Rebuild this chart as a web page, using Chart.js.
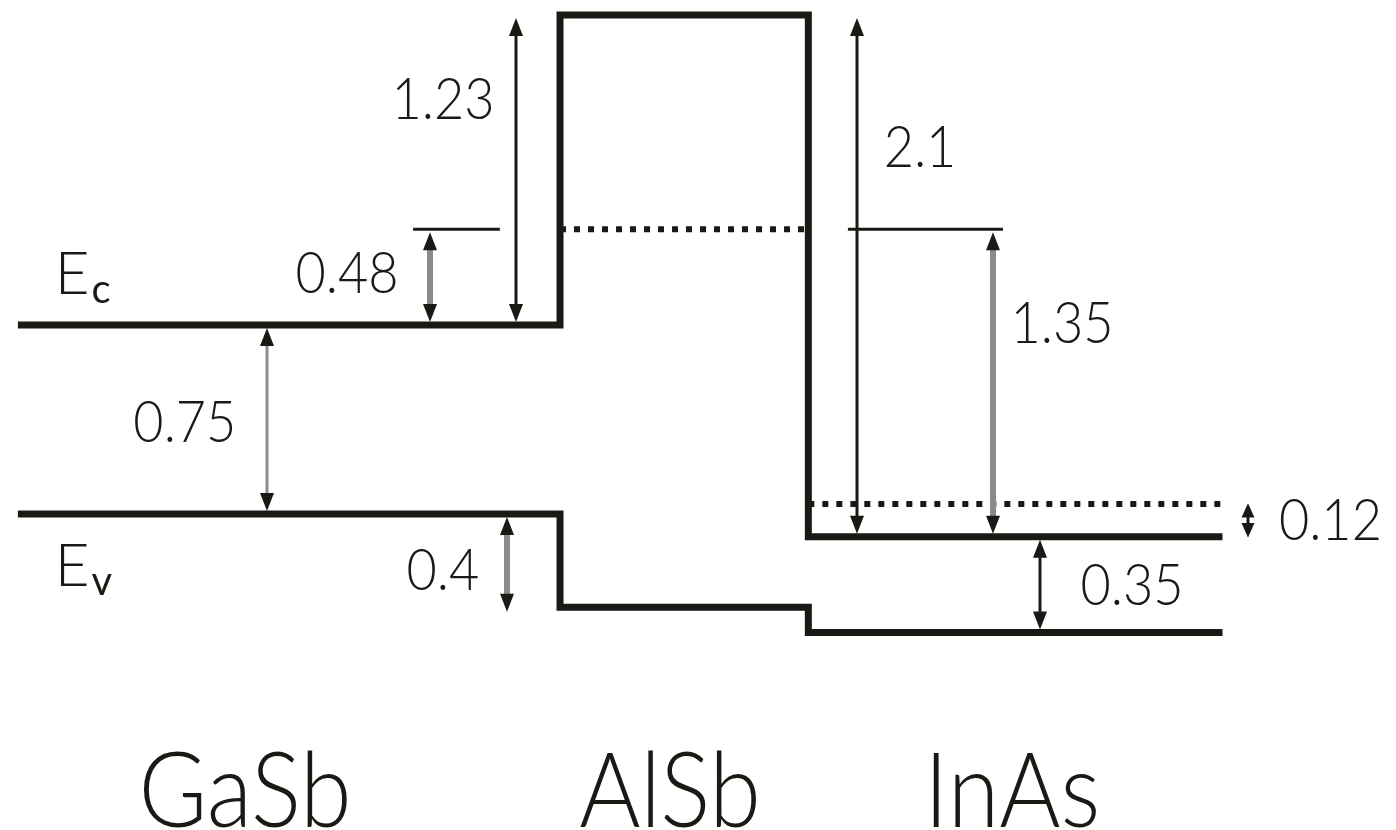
<!DOCTYPE html>
<html>
<head>
<meta charset="utf-8">
<script src="https://cdn.jsdelivr.net/npm/chart.js@4"></script>
<style>
  html, body { margin: 0; padding: 0; background: #fff; }
  #wrap { width: 1396px; height: 830px; }
</style>
</head>
<body>
<div id="wrap"><canvas id="bandChart" width="1396" height="830"></canvas></div>
<script>
// layers along the growth direction (arbitrary thickness units)
const materials = ["GaSb", "AlSb", "InAs"];
const layerStart = [0, 10, 14.58];
const layerEnd = [10, 14.58, 22.22];
const labelX = [4.19, 12.03, 18.34];

// band edges in eV (GaSb valence band = 0)
const conductionBand = [0.75, 1.98, -0.09];
const valenceBand = [0, -0.37, -0.47];

// reference levels (thin marks and dotted lines)
const refLevel = [1.13, 1.13, 1.13, 0.04];
const refStart = [7.29, 10, 15.31, 14.58];
const refEnd = [8.89, 14.58, 18.17, 22.22];

// energy offsets: arrows and their labels
const offsetText = ["1.23", "0.48", "0.75", "0.4", "2.1", "1.35", "0.12", "0.35"];
const offsetX = [9.19, 7.60, 4.59, 9.02, 15.48, 17.99, 22.69, 18.86];
const offsetTop = [1.98, 1.13, 0.75, 0, 1.98, 1.13, 0.055, -0.09];
const offsetBottom = [0.75, 0.75, 0, -0.4, -0.09, -0.09, -0.105, -0.47];
const offsetLabelX = [7.84, 6.07, 3.08, 7.84, 16.64, 19.26, 24.21, 20.55];
const offsetLabelY = [1.65, 0.96, 0.37, -0.22, 1.46, 0.76, -0.02, -0.28];

// styles
const dark = "#1a1a14";
const gray = "#8c8c86";
const refWidth = [3, 6, 3, 6];
const refDash = [[], [6, 8], [], [6, 8]];
const arrowColor = [dark, gray, gray, gray, dark, gray, dark, dark];
const arrowWidth = [3, 6, 3, 6, 3, 6, 3, 3];
const FONT = "Lato, 'Open Sans', sans-serif";

function bandPath(levels) {
    const pts = [];
    materials.forEach(function (m, i) {
        pts.push({ x: layerStart[i], y: levels[i] });
        pts.push({ x: layerEnd[i], y: levels[i] });
    });
    return pts;
}

const datasets = [
    { label: "Ec", data: bandPath(conductionBand), borderColor: dark, borderWidth: 7 },
    { label: "Ev", data: bandPath(valenceBand), borderColor: dark, borderWidth: 7 }
];
refLevel.forEach(function (lv, i) {
    datasets.push({
        label: "ref" + i,
        data: [{ x: refStart[i], y: lv }, { x: refEnd[i], y: lv }],
        borderColor: dark,
        borderWidth: refWidth[i],
        borderDash: refDash[i]
    });
});
datasets.forEach(function (d) {
    d.showLine = true;
    d.pointRadius = 0;
    d.fill = false;
    d.clip = false;
    d.borderCapStyle = "butt";
    d.borderJoinStyle = "miter";
});

function drawArrow(ctx, x, y1, y2, color, width) {
    const span = y2 - y1;
    const len = Math.min(18, span * 0.42);
    const half = Math.max(6, Math.min(7, len * 0.45));
    ctx.save();
    ctx.strokeStyle = color;
    ctx.lineWidth = width;
    ctx.beginPath();
    ctx.moveTo(x, y1 + len * 0.8);
    ctx.lineTo(x, y2 - len * 0.8);
    ctx.stroke();
    ctx.fillStyle = dark;
    ctx.beginPath();
    ctx.moveTo(x, y1);
    ctx.lineTo(x - half, y1 + len);
    ctx.lineTo(x + half, y1 + len);
    ctx.closePath();
    ctx.fill();
    ctx.beginPath();
    ctx.moveTo(x, y2);
    ctx.lineTo(x - half, y2 - len);
    ctx.lineTo(x + half, y2 - len);
    ctx.closePath();
    ctx.fill();
    ctx.restore();
}

// text with cap-height centred on py, optionally condensed horizontally
function capText(ctx, text, px, py, size, squeeze) {
    const k = squeeze || 1;
    ctx.save();
    ctx.font = "300 " + size + "px " + FONT;
    ctx.textAlign = "center";
    ctx.textBaseline = "alphabetic";
    ctx.translate(px, py + size * 0.36);
    ctx.scale(k, 1);
    ctx.fillText(text, 0, 0);
    ctx.restore();
}

const annotations = {
    id: "annotations",
    afterDatasetsDraw(chart) {
        const ctx = chart.ctx;
        const xs = chart.scales.x, ys = chart.scales.y;
        offsetText.forEach(function (t, i) {
            const x = Math.round(xs.getPixelForValue(offsetX[i]));
            const yA = ys.getPixelForValue(offsetTop[i]) + 3;
            const yB = ys.getPixelForValue(offsetBottom[i]) - 3;
            drawArrow(ctx, x, yA, yB, arrowColor[i], arrowWidth[i]);
        });
        ctx.save();
        ctx.fillStyle = dark;
        offsetText.forEach(function (t, i) {
            capText(ctx, t, xs.getPixelForValue(offsetLabelX[i]), ys.getPixelForValue(offsetLabelY[i]), 58, 0.9);
        });
        // E_c and E_v
        [["E", "c", 0.96], ["E", "v", -0.2]].forEach(function (e) {
            const px = xs.getPixelForValue(0.68);
            const py = ys.getPixelForValue(e[2]);
            ctx.font = "300 60px " + FONT;
            ctx.textAlign = "left";
            ctx.textBaseline = "alphabetic";
            ctx.fillText(e[0], px, py + 60 * 0.36);
            const w = ctx.measureText(e[0]).width;
            ctx.font = "400 40px " + FONT;
            ctx.fillText(e[1], px + w + 2, py + 60 * 0.36 + 9);
        });
        materials.forEach(function (m, i) {
            capText(ctx, m, xs.getPixelForValue(labelX[i]), ys.getPixelForValue(-1.095), 104, 0.9);
        });
        ctx.restore();
    }
};

new Chart(document.getElementById("bandChart"), {
    type: "scatter",
    data: { datasets: datasets },
    options: {
        responsive: false,
        animation: false,
        layout: { padding: 0 },
        scales: {
            x: { type: "linear", display: false, min: -0.33, max: 25.42 },
            y: { type: "linear", display: false, min: -1.254, max: 2.04 }
        },
        plugins: { legend: { display: false }, tooltip: { enabled: false } },
        elements: { line: { tension: 0 } }
    },
    plugins: [annotations]
});
</script>
</body>
</html>
